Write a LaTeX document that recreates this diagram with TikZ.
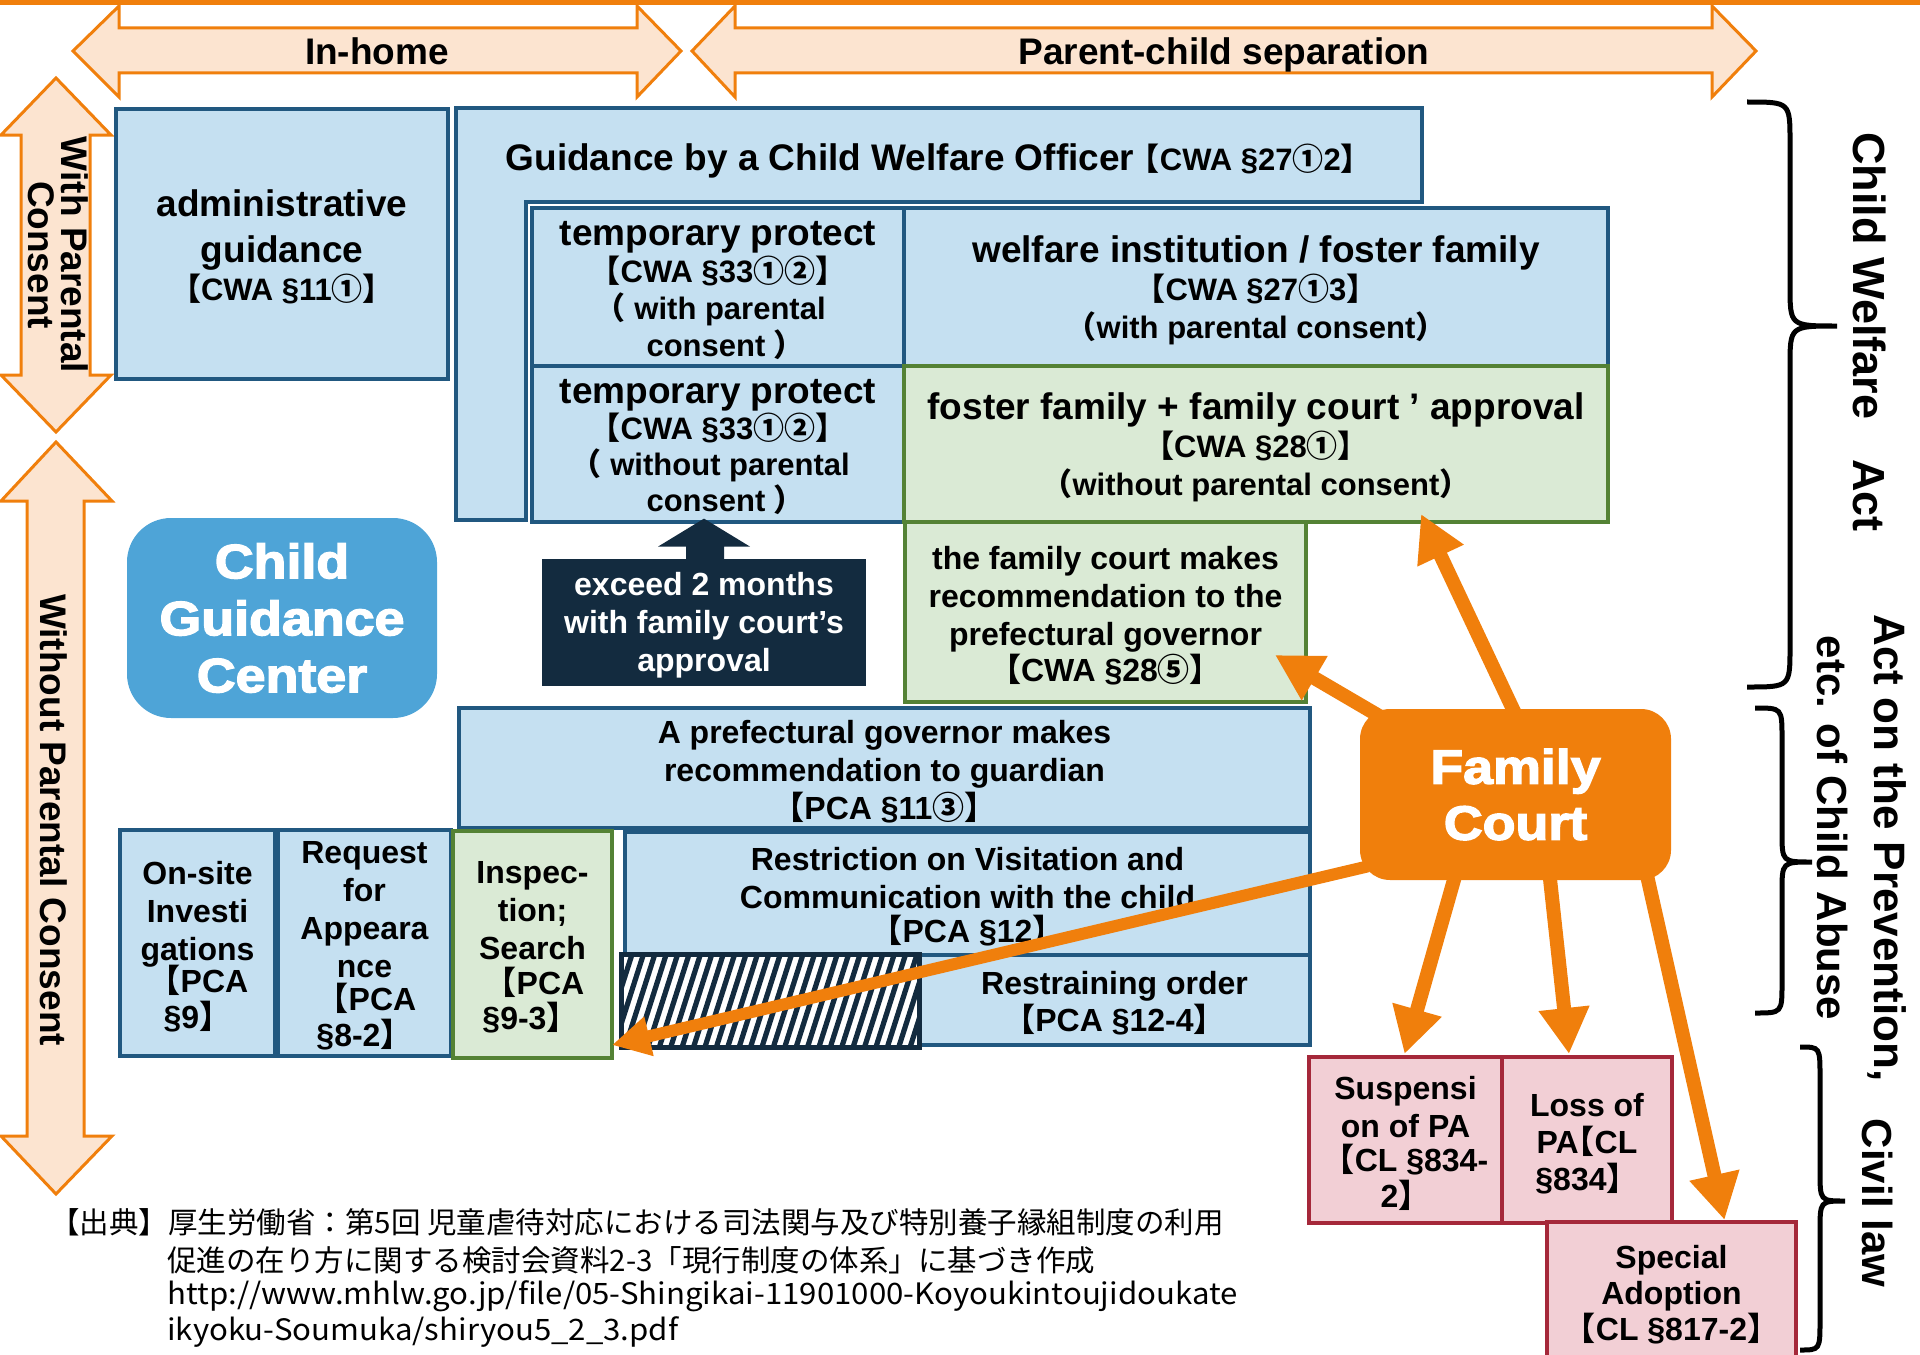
\documentclass[tikz,border=0pt]{standalone}
\usepackage{fontspec}
\setmainfont{Liberation Sans}
\newfontfamily\cjk[RawFeature=+halt]{Noto Sans CJK JP}
\newfontfamily\cjkn{Noto Sans CJK JP}
\newfontfamily\cjkw[FakeStretch=1.057]{Noto Sans CJK JP}
\newfontfamily\heavy[FakeStretch=1.12,FakeBold=3]{Liberation Sans}
\usetikzlibrary{fit,arrows.meta}
\definecolor{bfill}{RGB}{197,224,241}
\definecolor{bdr}{RGB}{33,88,128}
\definecolor{gfill}{RGB}{218,234,213}
\definecolor{gbdr}{RGB}{84,130,53}
\definecolor{pfill}{RGB}{242,207,213}
\definecolor{pbdr}{RGB}{165,40,58}
\definecolor{orng}{RGB}{240,127,12}
\definecolor{lorng}{RGB}{252,228,208}
\definecolor{navy}{RGB}{19,43,63}
\definecolor{cgcblue}{RGB}{78,164,215}
\newcommand\lb{{\cjk 【}}
\newcommand\rb{{\cjk 】}}
\newcommand\cn[1]{{\cjk #1}}
\newcommand\fR{\fontsize{15.5}{15.5}\selectfont}
\newcommand\bracepath[7]{\draw[brc] (#1,#4) .. controls (#2,#4) .. (#2,#4+#7) -- (#2,#5-#7) .. controls (#2,#5) .. (#3,#5) .. controls (#2,#5) .. (#2,#5+#7) -- (#2,#6-#7) .. controls (#2,#6) .. (#1,#6);}
\tikzset{
  bbox/.style={draw=bdr, fill=bfill, line width=2pt, inner sep=0pt},
  gbox/.style={draw=gbdr, fill=gfill, line width=2pt, inner sep=0pt},
  pbox/.style={draw=pbdr, fill=pfill, line width=2pt, inner sep=0pt},
  txt/.style={inner sep=0pt, align=center, yshift=-1.6pt},
  oarrow/.style={draw=orng, line width=7pt, -{Triangle[length=23pt,width=24pt]}},
  dblarrow/.style={draw=orng, fill=lorng, line width=1.5pt, line join=miter},
  brc/.style={draw=black, line width=2.5pt},
  lbl/.style={inner sep=0pt, align=center},
  fn/.style={inner sep=0pt, anchor=west, font=\cjkn\fontsize{14.75}{17}\selectfont},
  fnw/.style={inner sep=0pt, anchor=west, font=\cjkw\fontsize{14.75}{17}\selectfont},
}
\begin{document}
\begin{tikzpicture}[x=0.5pt,y=-0.5pt]
\useasboundingbox (0,0) rectangle (1920,1354);
\fill[orng] (0,0) rectangle (1920,5);
% top double arrows
\path[dblarrow] (73,51) -- (119,6) -- (119,28) -- (637,28) -- (637,6) -- (681,51) -- (637,97) -- (637,73) -- (119,73) -- (119,97) -- cycle;
\node[lbl, font=\bfseries\fontsize{18.5}{18.5}\selectfont] (inhome) at (377,51) {In-home};
\path[dblarrow] (692,51) -- (735,6) -- (735,28) -- (1712,28) -- (1712,6) -- (1756,51) -- (1712,97) -- (1712,73) -- (735,73) -- (735,97) -- cycle;
\node[lbl, font=\bfseries\fontsize{18.5}{18.5}\selectfont] (pcsep) at (1224,55) {Parent-child separation};
% left vertical arrows
\path[dblarrow] (56,78) -- (111,135) -- (90,135) -- (90,375) -- (111,375) -- (56,432) -- (1,375) -- (21,375) -- (21,135) -- (1,135) -- cycle;
\node[lbl, rotate=-90, font=\bfseries\fontsize{18.5}{16.5}\selectfont] (wpc) at (58,255) {With Parental\\Consent};
\path[dblarrow] (56,442) -- (112,501) -- (84,501) -- (84,1136) -- (112,1136) -- (56,1194) -- (1,1136) -- (27,1136) -- (27,501) -- (1,501) -- cycle;
\node[lbl, rotate=-90, font=\bfseries\fontsize{18.5}{18.5}\selectfont] (wopc) at (54,820) {Without Parental Consent};
% Guidance L-shape
\path[draw=bdr, fill=bfill, line width=2pt] (456,108) -- (1422,108) -- (1422,202) -- (526,202) -- (526,520) -- (456,520) -- cycle;
\node[lbl, font=\bfseries\fontsize{18.5}{18.5}\selectfont] (guidtxt) at (931,161) {Guidance by a Child Welfare Officer {\fR\lb CWA §27\cn{①}2\rb}};
% upper boxes
\node[bbox, fit={(116,109) (448,379)}] (admin) {};
\node[txt, font=\bfseries\fontsize{18.5}{23}\selectfont] (admin-t) at (admin.center) {administrative\\guidance\\[-4pt]{\fR\lb CWA §11\cn{①}\rb}};
\node[bbox, fit={(532,208) (904,366)}] (tempw) {};
\node[txt, font=\bfseries\fontsize{18.5}{18.5}\selectfont] (tempw-t) at (tempw.center) {temporary protect\\{\fR\lb CWA §33\cn{①②}\rb}\\{\fR\cn{（} with parental}\\{\fR consent \cn{）}}};
\node[bbox, fit={(904,208) (1608,366)}] (welfare) {};
\node[txt, font=\bfseries\fontsize{18.5}{19}\selectfont] (welfare-t) at (welfare.center) {welfare institution / foster family\\{\fR\lb CWA §27\cn{①}3\rb}\\{\fR\cn{（}with parental consent\cn{）}}};
\node[bbox, fit={(532,366) (904,522)}] (tempwo) {};
\node[txt, font=\bfseries\fontsize{18.5}{18}\selectfont] (tempwo-t) at (tempwo.center) {temporary protect\\{\fR\lb CWA §33\cn{①②}\rb}\\{\fR\cn{（} without parental}\\{\fR consent \cn{）}}};
\node[gbox, fit={(904,366) (1608,522)}] (foster) {};
\node[txt, font=\bfseries\fontsize{18.5}{19}\selectfont] (foster-t) at (foster.center) {foster family + family court ’ approval\\{\fR\lb CWA §28\cn{①}\rb}\\{\fR\cn{（}without parental consent\cn{）}}};
\node[gbox, fit={(905,522) (1306,702)}] (rec) {};
\node[txt, font=\bfseries\fontsize{16}{19}\selectfont] (rec-t) at (rec.center) {the family court makes\\recommendation to the\\prefectural governor\\[-1pt]\lb CWA §28\cn{⑤}\rb};
% exceed box with up arrow
\node[fill=navy, inner sep=0pt, fit={(542,559) (866,686)}] (exceed) {};
\node[txt, text=white, font=\bfseries\fontsize{16}{19}\selectfont] (exceed-t) at (exceed.center) {exceed 2 months\\with family court's\\approval};
\fill[navy] ([shift={(0,-40)}]exceed.north) -- ++(46,28) -- ++(-26,0) -- ++(0,13) -- ++(-38,0) -- ++(0,-13) -- ++(-28,0) -- cycle;
% Child Guidance Center
\node[fill=cgcblue, rounded corners=22pt, inner sep=0pt, fit={(127,518) (437,718)}] (cgc) {};
\node[txt, yshift=1.6pt, text=white, font=\heavy\bfseries\fontsize{24}{28.5}\selectfont] (cgc-t) at (cgc.center) {Child\\Guidance\\Center};
% lower boxes
\node[bbox, fit={(459,708) (1310,828)}] (pref) {};
\node[txt, font=\bfseries\fontsize{16}{19}\selectfont] (pref-t) at (pref.center) {A prefectural governor makes\\recommendation to guardian\\\lb PCA §11\cn{③}\rb};
\node[bbox, fit={(120,830) (275,1056)}] (onsite) {};
\node[txt, font=\bfseries\fontsize{16}{19}\selectfont] (onsite-t) at (onsite.center) {On-site\\Investi\\gations\\[-3pt]\hspace*{9pt}\lb PCA\\[-1pt]§9\rb\hspace*{8pt}};
\node[bbox, fit={(278,830) (451,1056)}] (request) {};
\node[txt, font=\bfseries\fontsize{16}{19}\selectfont] (request-t) at (request.center) {Request\\for\\Appeara\\nce\\[-2.5pt]\hspace*{10pt}\lb PCA\\[-1pt]§8-2\rb\hspace*{8pt}};
\node[gbox, fit={(453,831) (612,1058)}] (insp) {};
\node[txt, font=\bfseries\fontsize{16}{19}\selectfont] (insp-t) at (insp.center) {Inspec-\\tion;\\Search\\[-1.5pt]\hspace*{10pt}\lb PCA\\[-1.5pt]§9-3\rb\hspace*{10pt}};
\node[bbox, fit={(625,832) (1310,955)}] (restr) {};
\node[txt, font=\bfseries\fontsize{16}{19}\selectfont] (restr-t) at (restr.center) {Restriction on Visitation and\\Communication with the child\\[-2pt]\lb PCA §12\rb};
\node[bbox, fit={(919,955) (1310,1045)}] (restrain) {};
\node[txt, font=\bfseries\fontsize{16}{17}\selectfont] (restrain-t) at (restrain.center) {Restraining order\\\lb PCA §12-4\rb};
\node[fit={(622,955) (919,1047)}, inner sep=0pt, fill=white] (hatch) {};
\begin{scope}
\clip (hatch.south west) rectangle (hatch.north east);
\foreach \i in {0,...,29} \draw[line width=2.6pt, navy] ({590+\i*11.4},1050) -- ++(32,-100);
\end{scope}
\draw[navy, line width=2.5pt] (hatch.south west) rectangle (hatch.north east);
% Family Court
\node[fill=orng, rounded corners=15pt, inner sep=0pt, fit={(1360,709) (1671,880)}] (fc) {};
\node[txt, yshift=1.6pt, text=white, font=\heavy\bfseries\fontsize{24}{28}\selectfont] (fc-t) at (fc.center) {Family\\Court};
% pink boxes
\node[pbox, fit={(1309,1057) (1502,1223)}] (susp) {};
\node[txt, font=\bfseries\fontsize{16}{19}\selectfont] (susp-t) at (susp.center) {Suspensi\\on of PA\\[-2pt]\hspace*{8pt}\lb CL §834-\\[-1pt]2\rb\hspace*{8pt}};
\node[pbox, fit={(1502,1057) (1672,1223)}] (loss) {};
\node[txt, font=\bfseries\fontsize{16}{18.5}\selectfont] (loss-t) at (loss.center) {Loss of\\PA\lb CL\\§834\rb\hspace*{8pt}};
\node[pbox, fit={(1547,1222) (1796,1360)}] (special) {};
\node[txt, font=\bfseries\fontsize{16}{18}\selectfont] (special-t) at (special.center) {Special\\Adoption\\\lb CL §817-2\rb};
% arrows from Family Court
\draw[oarrow] ([shift={(0,6)}]fc.north) -- ([shift={(519,-10)}]foster.south west);
\draw[oarrow] ([shift={(24,10)}]fc.north west) -- ([shift={(-33,-49)}]rec.south east);
\draw[draw=orng, line width=6pt, -{Triangle[length=19pt,width=19pt]}] ([shift={(8,-14)}]fc.south west) -- ([shift={(-2,-15)}]insp.south east);
\draw[oarrow] ([shift={(-60,-6)}]fc.south) -- ([shift={(-1,-1)}]susp.north);
\draw[oarrow] ([shift={(34,-6)}]fc.south) -- ([shift={(-18,-1)}]loss.north);
\draw[oarrow] ([shift={(-26,-12)}]fc.south east) -- ([shift={(53,0)}]special.north);
% braces
\bracepath{1747}{1790}{1837}{102}{326}{687}{40}
\bracepath{1755}{1782}{1812}{708}{862}{1013}{30}
\bracepath{1800}{1820}{1845}{1047}{1201}{1350}{30}
\node[lbl, rotate=-90, font=\bfseries\fontsize{22.5}{22.5}\selectfont] (cwa) at (1870,332) {Child Welfare\hspace{20pt}Act};
\node[lbl, rotate=-90, font=\bfseries\fontsize{22}{22}\selectfont] (prev1) at (1887,848) {Act on the Prevention,};
\node[lbl, rotate=-90, font=\bfseries\fontsize{21}{21}\selectfont] (prev2) at (1832,828) {etc. of Child Abuse};
\node[lbl, rotate=-90, font=\bfseries\fontsize{21}{21}\selectfont] (civil) at (1877,1203) {Civil law};
% footnote
\node[fn] (fn1) at (50,1222) {【出典】厚生労働省：第5回 児童虐待対応における司法関与及び特別養子縁組制度の利用};
\node[fn] (fn2) at (167,1260) {促進の在り方に関する検討会資料2-3「現行制度の体系」に基づき作成};
\node[fnw] (fn3) at (167,1296) {http://www.mhlw.go.jp/file/05-Shingikai-11901000-Koyoukintoujidoukate};
\node[fnw] (fn4) at (167,1332) {ikyoku-Soumuka/shiryou5\_2\_3.pdf};
\end{tikzpicture}
\end{document}
